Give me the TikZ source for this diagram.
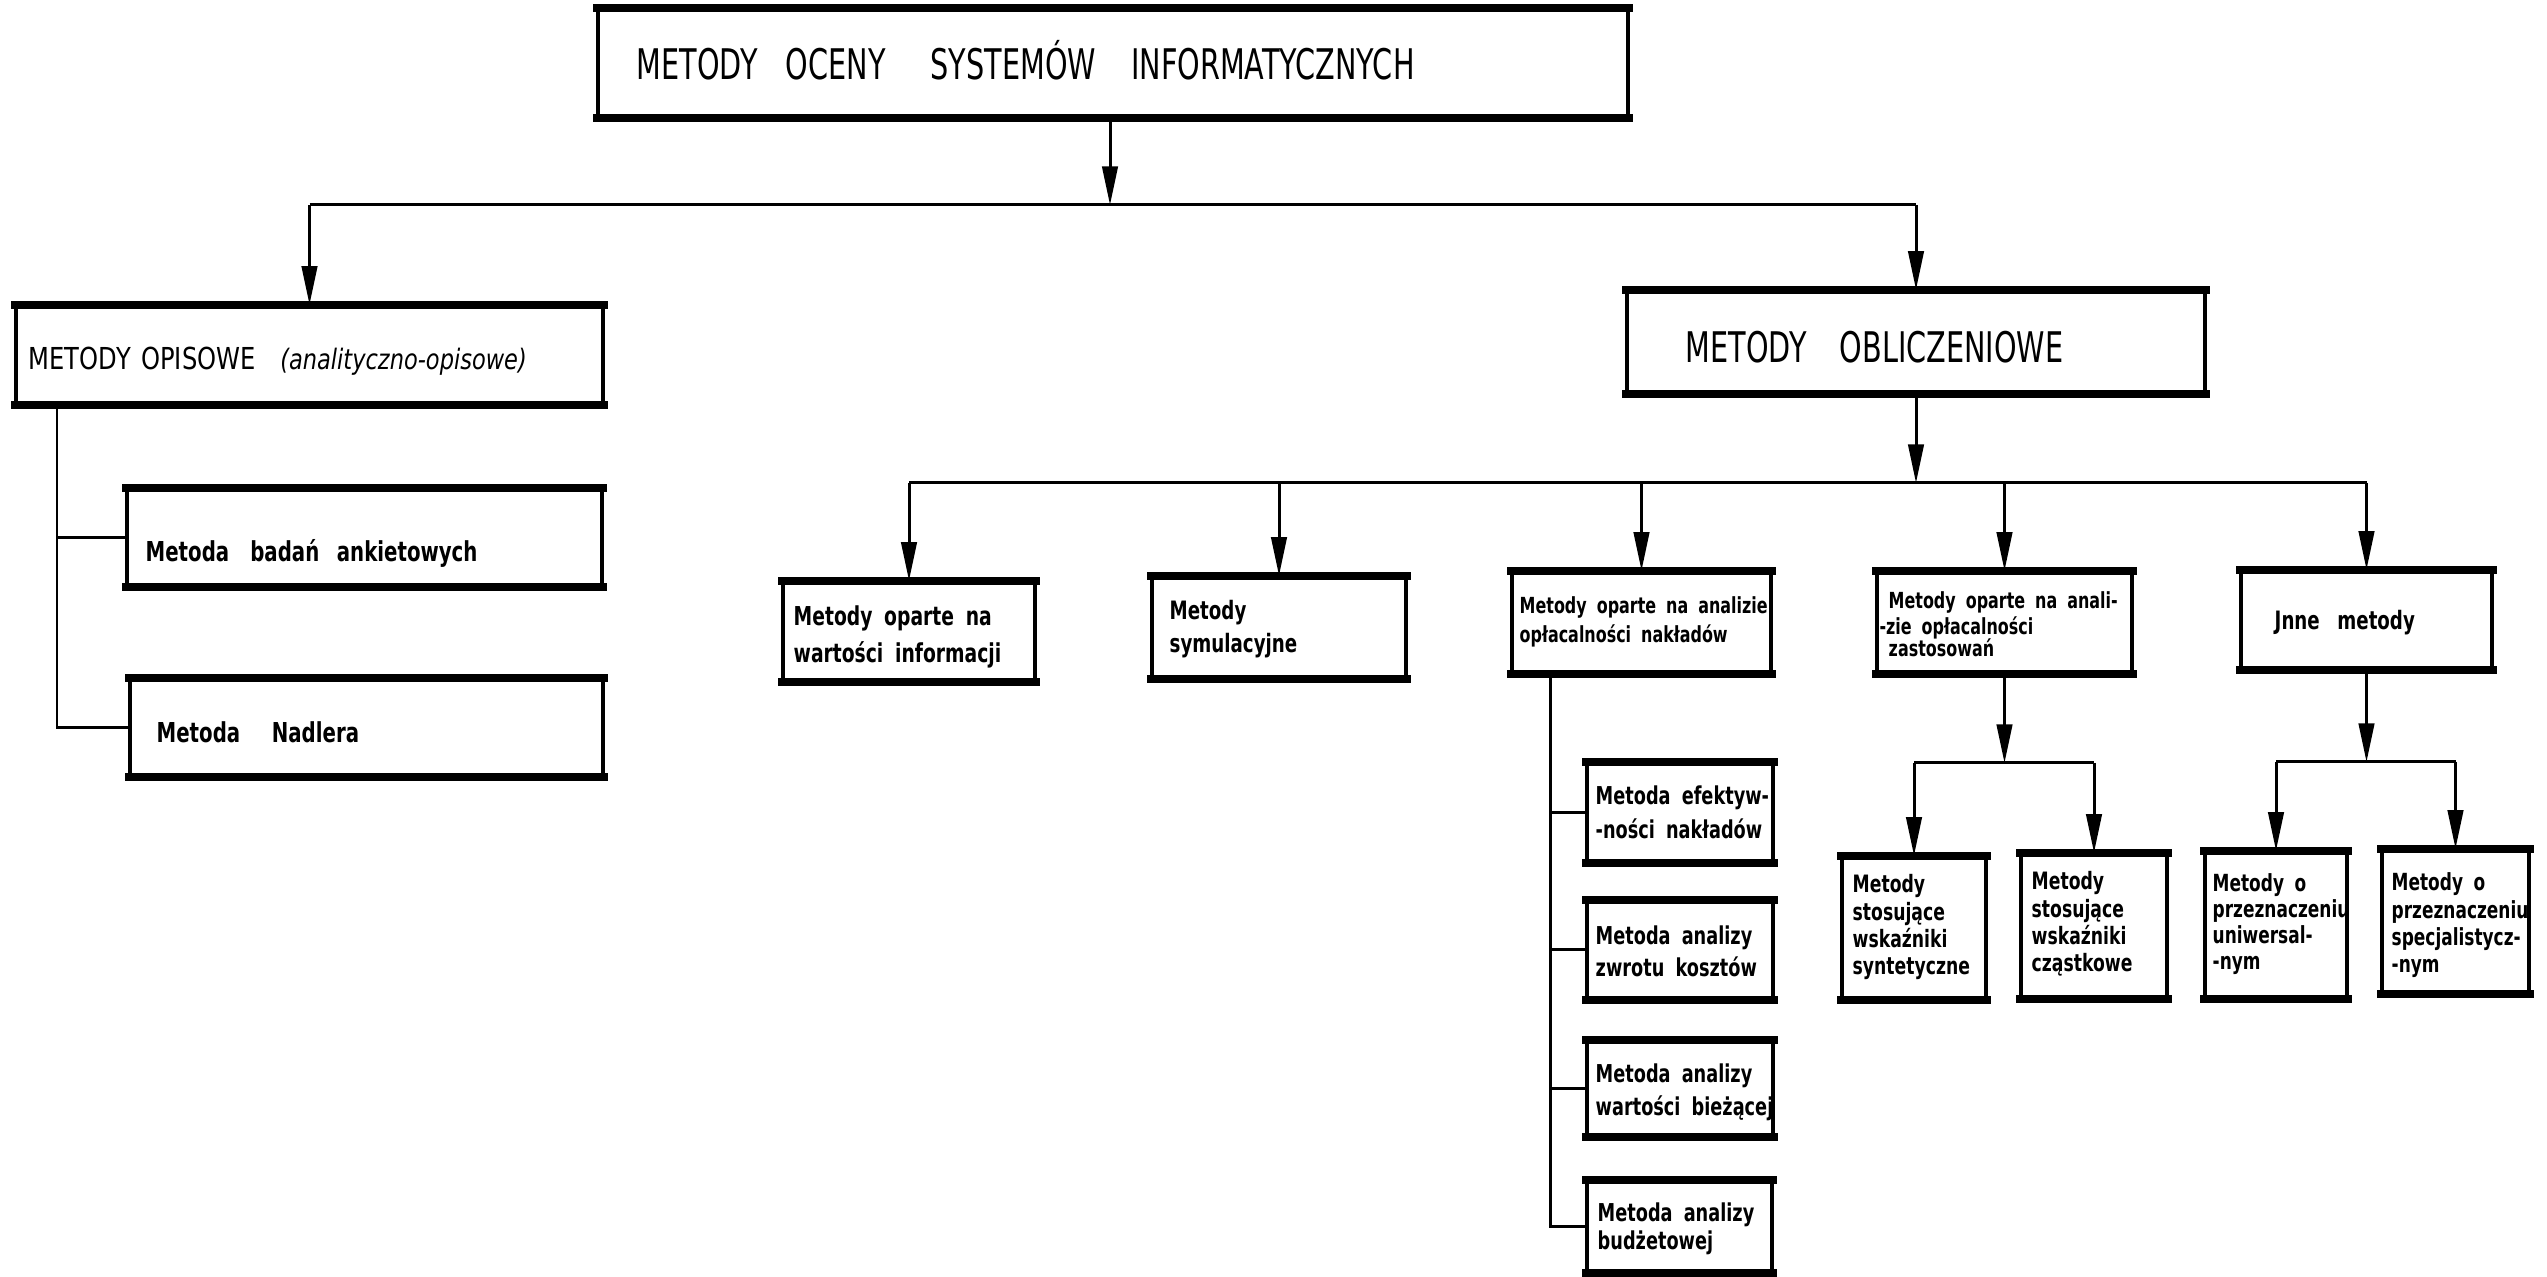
\documentclass[tikz,border=0pt]{standalone}
\usepackage{fontspec}
\usetikzlibrary{arrows.meta,fit}
% narrow lettering: capitals for the main headings, heavier lower case for the boxes
\newfontfamily\hc[FakeStretch=0.68]{DejaVu Sans}
\newfontfamily\hw[FakeStretch=0.8,WordSpace=2]{DejaVu Sans}
\newfontfamily\hb[FakeStretch=0.72,WordSpace=1.8]{DejaVu Sans}
\tikzset{
  box/.style={draw, line width=1.3pt, inner sep=0pt, rectangle},
  rim/.style={line width=2.3pt, line cap=butt, shorten <=-0.65pt, shorten >=-0.65pt},
  ln/.style={line width=0.85pt},
  arr/.style={ln, -{Triangle[length=11pt,width=4.4pt]}},
  txt/.style 2 args={font=\hb\bfseries\fontsize{#1}{#2}\selectfont, inner sep=0pt, anchor=base west, align=left},
  ttl/.style={font=\hc\fontsize{12}{14}\selectfont, inner sep=0pt, anchor=base west},
}
\begin{document}
\begin{tikzpicture}[x=0.01cm, y=-0.01cm]
\useasboundingbox (0,0) rectangle (2547,1277);

% ---- boxes ----
\node[box, fit={(598,10) (1628,116)}] (top) {};
\node[box, fit={(16,307) (603,403)}] (opis) {};
\node[box, fit={(127,490) (602,585)}] (ank) {};
\node[box, fit={(130,680) (603,775)}] (nad) {};
\node[box, fit={(1627,292) (2205,392)}] (obl) {};
\node[box, fit={(783,583) (1035,680)}] (b1) {};
\node[box, fit={(1152,578) (1406,677)}] (b2) {};
\node[box, fit={(1512,573) (1771,672)}] (b3) {};
\node[box, fit={(1877,573) (2132,672)}] (b4) {};
\node[box, fit={(2241,572) (2492,668)}] (b5) {};
\node[box, fit={(1587,764) (1773,861)}] (s1) {};
\node[box, fit={(1587,902) (1773,998)}] (s2) {};
\node[box, fit={(1587,1042) (1773,1135)}] (s3) {};
\node[box, fit={(1587,1182) (1772,1271)}] (s4) {};
\node[box, fit={(1842,858) (1986,998)}] (k1) {};
\node[box, fit={(2021,855) (2167,997)}] (k2) {};
\node[box, fit={(2205,853) (2347,997)}] (u1) {};
\node[box, fit={(2382,851) (2529,992)}] (u2) {};

% heavier top and bottom rims of every box
\foreach \n in {top,opis,ank,nad,obl,b1,b2,b3,b4,b5,s1,s2,s3,s4,k1,k2,u1,u2}{
  \draw[rim] (\n.north west) -- (\n.north east);
  \draw[rim] (\n.south west) -- (\n.south east);
}

% ---- texts ----
\node[ttl] (topT) at (636,80) {METODY\hspace{8pt}OCENY\hspace{12.8pt}SYSTEMÓW\hspace{10pt}INFORMATYCZNYCH};
\node[inner sep=0pt, anchor=base west, font=\hw\fontsize{8.6}{10}\selectfont] (opisT) at (28,370)
  {METODY\hspace{3pt}OPISOWE\hspace{7pt}{\itshape\fontsize{8}{10}\selectfont(analityczno-opisowe)}};
\node[ttl] (oblT) at (1685,363) {METODY\hspace{9.4pt}OBLICZENIOWE};
\node[txt={7.8}{10}] (ankT) at (145,562) {Metoda\hspace{6pt}badań\hspace{5pt}ankietowych};
\node[txt={7.8}{10}] (nadT) at (156,743) {Metoda\hspace{9pt}Nadlera};
\node[txt={7.4}{10.8}] (b1T) at (793,663) {Metody oparte na\\wartości informacji};
\node[txt={7.2}{9.4}] (b2T) at (1169,653) {Metody\\symulacyjne};
\node[txt={6.3}{8.5}] (b3T) at (1519,643) {Metody oparte na analizie\\opłacalności nakładów};
\node[txt={6.3}{6.4}] (b4T) at (1888,657) {Metody oparte na anali-\\\hspace*{-2.6pt}-zie opłacalności\\zastosowań};
\node[txt={7.2}{10}] (b5T) at (2274,630) {Jnne\hspace{5pt}metody};
\node[txt={7}{9.7}] (s1T) at (1595,839) {Metoda efektyw-\\-ności nakładów};
\node[txt={7}{9.1}] (s2T) at (1595,977) {Metoda analizy\\zwrotu kosztów};
\node[txt={7}{9.4}] (s3T) at (1595,1116) {Metoda analizy\\wartości bieżącej};
\node[txt={7}{8.2}] (s4T) at (1597,1250) {Metoda analizy\\budżetowej};
\node[txt={6.8}{7.8}] (k1T) at (1852,975) {Metody\\stosujące\\wskaźniki\\syntetyczne};
\node[txt={6.8}{7.8}] (k2T) at (2031,972) {Metody\\stosujące\\wskaźniki\\cząstkowe};
\node[txt={6.7}{7.4}] (u1T) at (2212,970) {Metody o\\przeznaczeniu\\uniwersal-\\-nym};
\node[txt={6.7}{7.8}] (u2T) at (2391,973) {Metody o\\przeznaczeniu\\specjalistycz-\\-nym};

% ---- connectors ----
% first level
\coordinate (j0) at (1110,205);
\draw[arr] (top.south -| j0) -- (j0);
\draw[ln] (opis.north |- j0) -- (obl.north |- j0);
\draw[arr] (opis.north |- j0) -- (opis.north);
\draw[arr] (obl.north |- j0) -- (obl.north);

% descriptive methods
\coordinate (v0) at (57,403);
\draw[ln] (v0) -- (v0 |- nad.west) -- (nad.west);
\draw[ln] (v0 |- ank.west) -- (ank.west);

% computational methods
\coordinate (j1) at (1916,483);
\draw[arr] (obl.south) -- (obl.south |- j1);
\draw[ln] (b1.north |- j1) -- (b5.north |- j1);
\foreach \b in {b1,b2,b3,b4,b5}
  \draw[arr] (\b.north |- j1) -- (\b.north);

% cost-effectiveness group
\coordinate (v1) at (1550,672);
\draw[ln] (v1) -- (v1 |- s4.west) -- (s4.west);
\foreach \s in {s1,s2,s3}
  \draw[ln] (v1 |- \s.west) -- (\s.west);

% application profitability group
\coordinate (j2) at (2005,763);
\draw[arr] (b4.south) -- (b4.south |- j2);
\draw[ln] (k1.north |- j2) -- (k2.north |- j2);
\draw[arr] (k1.north |- j2) -- (k1.north);
\draw[arr] (k2.north |- j2) -- (k2.north);

% other methods
\coordinate (j3) at (2367,762);
\draw[arr] (b5.south) -- (b5.south |- j3);
\draw[ln] (u1.north |- j3) -- (u2.north |- j3);
\draw[arr] (u1.north |- j3) -- (u1.north);
\draw[arr] (u2.north |- j3) -- (u2.north);
\end{tikzpicture}
\end{document}
